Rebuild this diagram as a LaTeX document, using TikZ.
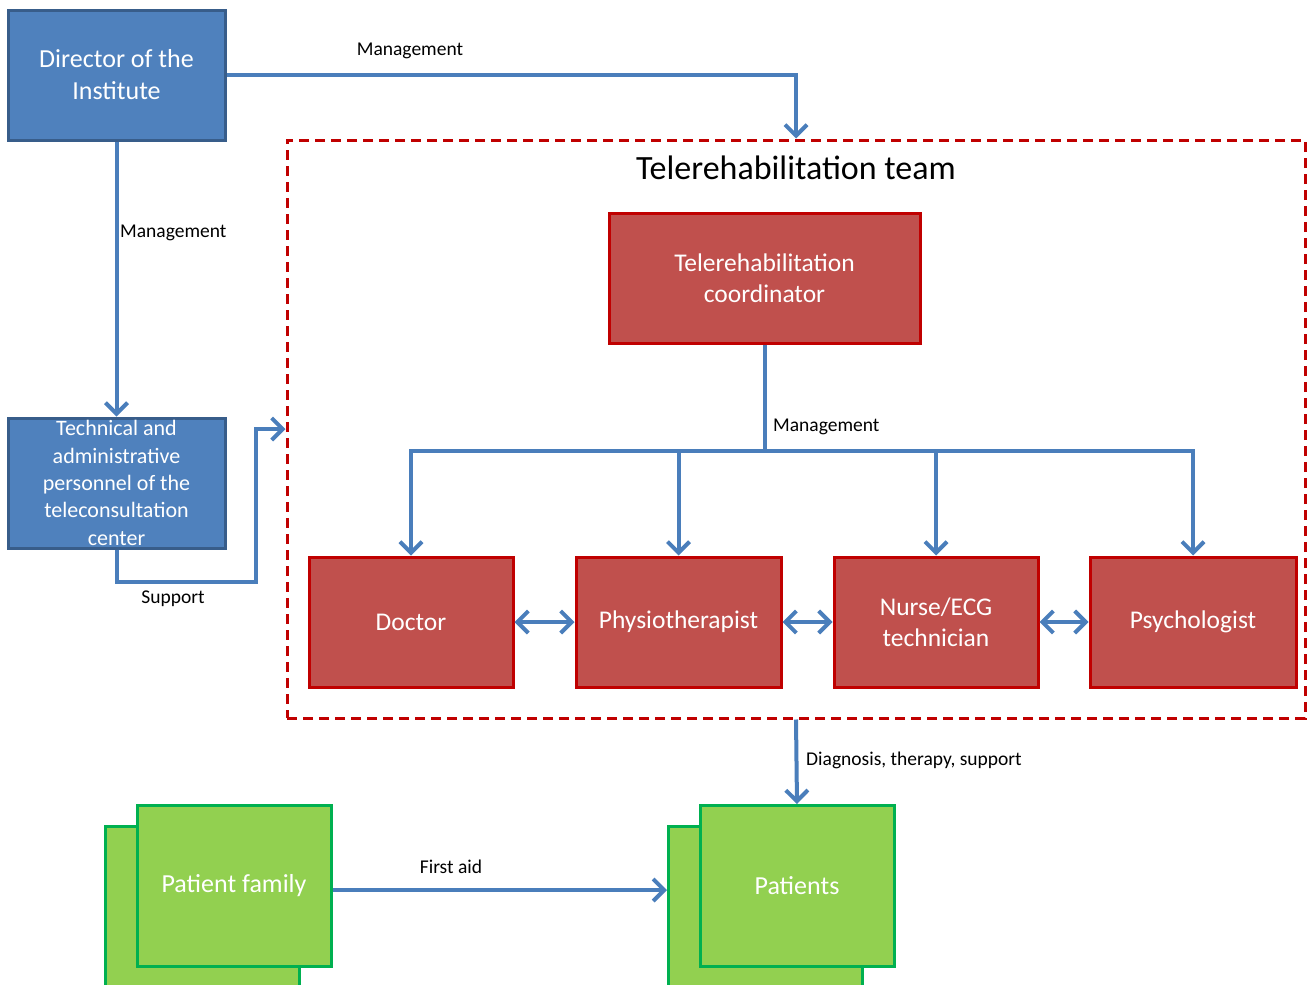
\documentclass[tikz,border=0pt]{standalone}
\usepackage{fontspec}
\setmainfont{Carlito}
\usetikzlibrary{arrows.meta}
\definecolor{bluefill}{HTML}{4F81BD}
\definecolor{blueline}{HTML}{385D8A}
\definecolor{redfill}{HTML}{C0504D}
\definecolor{redline}{HTML}{C00000}
\definecolor{greenfill}{HTML}{92D050}
\definecolor{greenline}{HTML}{00B050}
\definecolor{linkblue}{HTML}{4A7EBB}
\tikzset{
  bluebox/.style={draw=blueline, fill=bluefill, line width=3pt, text=white,
    align=center, inner sep=0pt, font=\fontsize{26}{32}\selectfont},
  redbox/.style={draw=redline, fill=redfill, line width=3pt, text=white,
    align=center, inner sep=0pt, minimum height=130pt, font=\fontsize{25.5}{31}\selectfont},
  greenbox/.style={draw=greenline, fill=greenfill, line width=3pt, text=white,
    align=center, inner sep=0pt, minimum width=194pt, minimum height=161pt,
    font=\fontsize{26}{31}\selectfont},
  conn/.style={draw=linkblue, line width=4pt,
    arrows={-Straight Barb[length=11pt,width=22pt,line width=4pt]}},
  conn2/.style={draw=linkblue, line width=4pt,
    arrows={Straight Barb[length=11pt,width=22pt,line width=4pt]-Straight Barb[length=11pt,width=22pt,line width=4pt]}},
  plain/.style={draw=linkblue, line width=4pt},
  lbl/.style={font=\fontsize{19.5}{23}\selectfont, inner sep=0pt},
}
\begin{document}
\begin{tikzpicture}[x=1pt,y=-1pt]
\useasboundingbox (0,0) rectangle (1307,985);

% team frame
\node[draw=redline, dashed, dash pattern=on 10pt off 6pt, line width=3pt,
  minimum width=1018pt, minimum height=578pt, inner sep=0pt] (team) at (796,429) {};
\node[font=\fontsize{34}{40}\selectfont, inner sep=0pt] (title) at (796,168) {Telerehabilitation team};

% left column
\node[bluebox, minimum width=217pt, minimum height=130pt] (dir) at (116.5,75) {Director of the\\Institute};
\node[bluebox, minimum width=217pt, minimum height=130pt,
  font=\fontsize{22}{27.3}\selectfont] (tech) at (116.5,483)
  {Technical and\\administrative\\personnel of the\\teleconsultation\\center};

% team members
\node[redbox, minimum width=311pt] (coord) at (764.5,278) {Telerehabilitation\\coordinator};
\node[redbox, minimum width=204pt] (doc) at (411,622) {Doctor};
\node[redbox, minimum width=205pt] (phy) at (678.5,622) {Physiotherapist};
\node[redbox, minimum width=204pt] (nur) at (936,622) {Nurse/ECG\\technician};
\node[redbox, minimum width=206pt] (psy) at (1193,622) {Psychologist};

% patients
\node[greenbox] (famb) at (202,906.5) {};
\node[greenbox] (fam) at (234,886) {Patient family};
\node[greenbox] (patb) at (765.5,906.5) {};
\node[greenbox] (pat) at (797,886) {Patients};

% management links
\draw[conn] (dir.east) -| (team.north);
\node[lbl] (l1) at (410,51) {Management};
\draw[conn] (dir.south) -- (tech.north);
\node[lbl, anchor=west] (l2) at (120,233) {Management};

% support link
\coordinate (s1) at (256,582);
\draw[conn] (tech.south) |- (s1) |- (team.west);
\node[lbl] (l3) at (173,599) {Support};

% coordinator to staff
\coordinate (bus) at (764.5,451);
\draw[plain] (coord.south) -- (bus);
\draw[conn] (bus) -| (doc.north);
\draw[conn] (bus) -| (phy.north);
\draw[conn] (bus) -| (nur.north);
\draw[conn] (bus) -| (psy.north);
\node[lbl, anchor=west] (l4) at (773,427) {Management};

% cooperation between staff
\draw[conn2] (doc.east) -- (phy.west);
\draw[conn2] (phy.east) -- (nur.west);
\draw[conn2] (nur.east) -- (psy.west);

% care links
\draw[conn] (team.south) -- (pat.north);
\node[lbl, anchor=west] (l5) at (806,760) {Diagnosis, therapy, support};
\draw[conn] (fam.east |- 0,890) -- (patb.west |- 0,890);
\node[lbl] (l6) at (451,867) {First aid};
\end{tikzpicture}
\end{document}
